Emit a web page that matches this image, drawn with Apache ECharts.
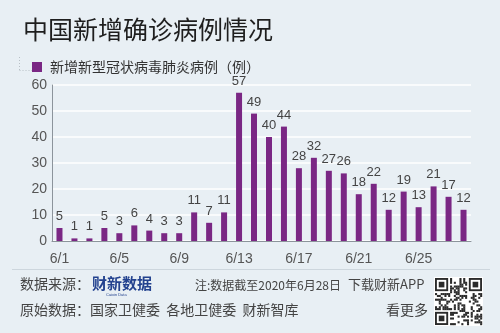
<!DOCTYPE html>
<html>
<head>
<meta charset="utf-8">
<script src="https://cdn.jsdelivr.net/npm/echarts@6/dist/echarts.min.js"></script>
<style>
  html, body { margin: 0; padding: 0; background: #e8eff4; }
  #chart { width: 500px; height: 333px; }
</style>
</head>
<body>
<div id="chart"></div>
<script>
// Daily new confirmed cases, 1–28 June 2020
const days = [
  '6/1','6/2','6/3','6/4','6/5','6/6','6/7','6/8','6/9','6/10','6/11','6/12','6/13','6/14',
  '6/15','6/16','6/17','6/18','6/19','6/20','6/21','6/22','6/23','6/24','6/25','6/26','6/27','6/28'
];
const newCases = [
  5, 1, 1, 5, 3, 6, 4, 3, 3, 11, 7, 11, 57, 49,
  40, 44, 28, 32, 27, 26, 18, 22, 12, 19, 13, 21, 17, 12
];
const yTicks = [0, 10, 20, 30, 40, 50, 60];

const seriesName = '新增新型冠状病毒肺炎病例（例）';
const cjk = '"Noto Sans CJK SC", "Noto Sans", sans-serif';
const latin = '"Liberation Sans", "Noto Sans", sans-serif';

// QR-style block for the app download badge
function qrBlocks(x0, y0, size, n) {
  const cell = size / n;
  const out = [];
  const finder = (cx, cy) => {
    out.push({ type: 'rect', shape: { x: x0 + cx * cell, y: y0 + cy * cell, width: 7 * cell, height: 7 * cell }, style: { fill: '#2b2b2b' } });
    out.push({ type: 'rect', shape: { x: x0 + (cx + 1) * cell, y: y0 + (cy + 1) * cell, width: 5 * cell, height: 5 * cell }, style: { fill: '#ffffff' } });
    out.push({ type: 'rect', shape: { x: x0 + (cx + 2) * cell, y: y0 + (cy + 2) * cell, width: 3 * cell, height: 3 * cell }, style: { fill: '#2b2b2b' } });
  };
  out.push({ type: 'rect', shape: { x: x0 - 1, y: y0 - 1, width: size + 2, height: size + 2 }, style: { fill: '#ffffff' } });
  const seed = 'caixin-data-app-download';
  let h = 7;
  for (let r = 0; r < n; r++) {
    for (let c = 0; c < n; c++) {
      const inFinder = (r < 8 && c < 8) || (r < 8 && c >= n - 8) || (r >= n - 8 && c < 8);
      h = (h * 31 + seed.charCodeAt((r * n + c) % seed.length) + r * 7 + c * 13) % 1009;
      if (!inFinder && (h % 5) < 2) {
        out.push({ type: 'rect', shape: { x: x0 + c * cell, y: y0 + r * cell, width: cell + 0.2, height: cell + 0.2 }, style: { fill: '#2b2b2b' } });
      }
    }
  }
  finder(0, 0); finder(n - 7, 0); finder(0, n - 7);
  return out;
}

const chart = echarts.init(document.getElementById('chart'), null, { renderer: 'canvas' });

chart.setOption({
  backgroundColor: '#e8eff4',
  animation: false,
  title: {
    text: '中国新增确诊病例情况',
    left: 18, top: 12,
    textStyle: { fontFamily: cjk, fontSize: 25, fontWeight: 'normal', color: '#1e1e1e' }
  },
  legend: {
    left: 27, top: 55,
    icon: 'rect', itemWidth: 10, itemHeight: 10,
    textStyle: { fontFamily: cjk, fontSize: 14, color: '#333', padding: [0, 0, 0, 3] },
    data: [seriesName]
  },
  grid: { left: 52, right: 29, top: 85, bottom: 92, containLabel: false },
  xAxis: {
    type: 'category',
    data: days,
    boundaryGap: true,
    axisLine: { lineStyle: { color: '#8c949b', width: 1 } },
    axisTick: { interval: 3, length: 5, lineStyle: { color: '#8c949b' } },
    axisLabel: { interval: 3, margin: 11, fontFamily: latin, fontSize: 14, color: '#555' }
  },
  yAxis: {
    type: 'value',
    min: yTicks[0], max: yTicks[yTicks.length - 1], interval: 10,
    axisLine: { show: true, lineStyle: { color: '#8c949b' } },
    axisTick: { show: false },
    axisLabel: { margin: 5, fontFamily: latin, fontSize: 14, color: '#555' },
    splitLine: { lineStyle: { color: '#ffffff', width: 1.5 } }
  },
  series: [{
    name: seriesName,
    type: 'bar',
    data: newCases,
    barWidth: 6,
    itemStyle: { color: '#7a2784' },
    label: {
      show: true, position: 'top', distance: 5,
      fontFamily: latin, fontSize: 13, color: '#444'
    }
  }],
  graphic: [
    // dotted corner beside the legend marker
    { type: 'line', shape: { x1: 19.5, y1: 57, x2: 19.5, y2: 70 }, style: { stroke: '#b8c0c6', lineWidth: 1, lineDash: [1, 2] } },
    { type: 'line', shape: { x1: 19.5, y1: 70.5, x2: 38, y2: 70.5 }, style: { stroke: '#b8c0c6', lineWidth: 1, lineDash: [1, 2] } },
    // footer separator
    { type: 'line', shape: { x1: 12, y1: 269.5, x2: 490, y2: 269.5 }, style: { stroke: '#cdd6dd', lineWidth: 1 } },
    { type: 'text', left: 20, top: 277, style: { text: '数据来源：', font: '14px ' + cjk, fill: '#444' } },
    { type: 'text', left: 92, top: 276, style: { text: '财新数据', font: 'bold 15px ' + cjk, fill: '#23428f' } },
    { type: 'text', left: 106, top: 293, style: { text: 'Caixin Data', font: '4px ' + latin, fill: '#23428f' } },
    { type: 'text', left: 195, top: 279, style: { text: '注:数据截至2020年6月28日', font: '12px ' + cjk, fill: '#444' } },
    { type: 'text', left: 348, top: 278, style: { text: '下载财新APP', font: '13px ' + cjk, fill: '#444' } },
    { type: 'text', left: 20, top: 303, style: { text: '原始数据：国家卫健委  各地卫健委  财新智库', font: '14px ' + cjk, fill: '#444' } },
    { type: 'text', left: 386, top: 303, style: { text: '看更多', font: '14px ' + cjk, fill: '#444' } },
    { type: 'group', children: qrBlocks(435, 278, 47, 25) }
  ]
});
</script>
</body>
</html>
